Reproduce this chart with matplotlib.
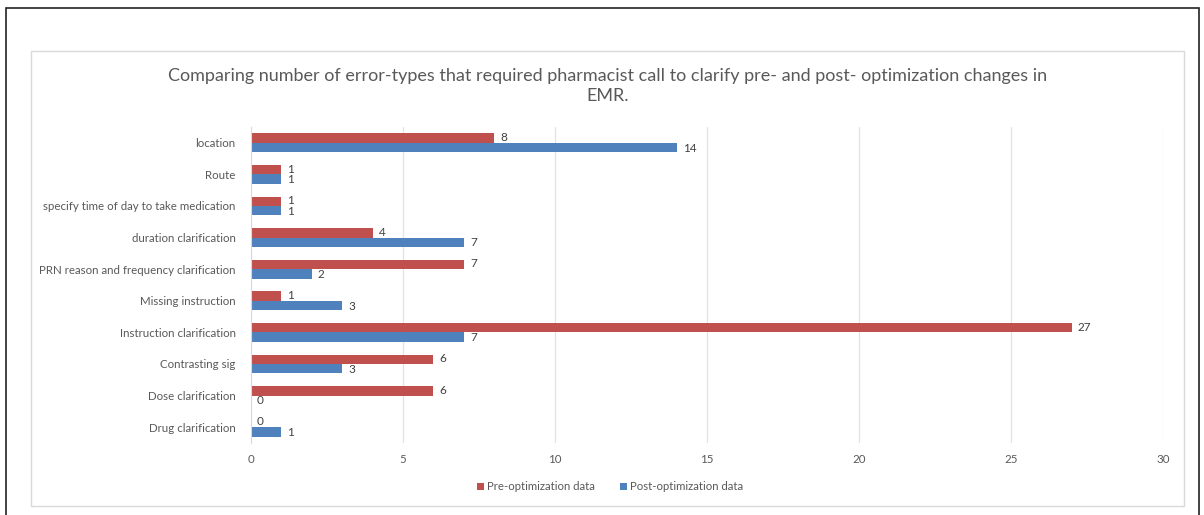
import matplotlib
matplotlib.use("Agg")
import matplotlib.pyplot as plt
from matplotlib.patches import Rectangle
import numpy as np

categories = ["Drug clarification", "Dose clarification", "Contrasting sig",
              "Instruction clarification", "Missing instruction",
              "PRN reason and frequency clarification", "duration clarification",
              "specify time of day to take medication", "Route", "location"]
pre_values = [0, 6, 6, 27, 1, 7, 4, 1, 1, 8]
post_values = [1, 0, 3, 7, 3, 2, 7, 1, 1, 14]
series_names = ["Pre-optimization data", "Post-optimization data"]
title = ("Comparing number of error-types that required pharmacist call to clarify pre- and post- optimization changes in\nEMR.")

RED = "#C0504D"
BLUE = "#4F81BD"
GRAY = "#595959"
FONT = "Lato"

W, H = 1204, 515
fig = plt.figure(figsize=(W / 100, H / 100), dpi=100)

# outer black frame
fig.add_artist(Rectangle((6 / W, -0.02), (1199 - 6) / W, 1 - 8 / H + 0.02,
                         transform=fig.transFigure, fill=False,
                         edgecolor="#222222", linewidth=1.2))
# chart area light box
fig.add_artist(Rectangle((31 / W, 1 - 506 / H), (1184 - 31) / W, (506 - 51) / H,
                         transform=fig.transFigure, fill=False,
                         edgecolor="#D9D9D9", linewidth=1.0))

left, right, top, bottom = 251, 1163, 127, 443
ax = fig.add_axes([left / W, 1 - bottom / H, (right - left) / W, (bottom - top) / H])

y = np.arange(len(categories))
h = 0.3
b1 = ax.barh(y + h / 2, pre_values, height=h, color=RED, label=series_names[0], zorder=3)
b2 = ax.barh(y - h / 2, post_values, height=h, color=BLUE, label=series_names[1], zorder=3)

for yi, v in zip(y, pre_values):
    ax.text(v + 0.2, yi + h / 2 + 0.02, str(v), va="center", ha="left",
            fontsize=8.5, color="#404040", family=FONT)
for yi, v in zip(y, post_values):
    ax.text(v + 0.2, yi - h / 2 - 0.02, str(v), va="center", ha="left",
            fontsize=8.5, color="#404040", family=FONT)

ax.set_xlim(0, 30)
ax.set_ylim(-0.5, len(categories) - 0.5)
ax.set_xticks(np.arange(0, 31, 5))
ax.set_yticks(y)
ax.set_yticklabels(categories)
for lab in ax.get_yticklabels() + ax.get_xticklabels():
    lab.set_family(FONT)
    lab.set_fontsize(8.3)
    lab.set_color(GRAY)
ax.tick_params(axis="both", length=0)
ax.tick_params(axis="y", pad=11)
ax.tick_params(axis="x", pad=8)
ax.grid(axis="x", color="#E3E3E3", linewidth=0.9, zorder=0)
for s in ["top", "right", "bottom"]:
    ax.spines[s].set_visible(False)
ax.spines["left"].set_color("#D9D9D9")
ax.spines["left"].set_zorder(4)

fig.text(608 / W, 1 - 86 / H, title, ha="center", va="center", fontsize=13,
         color=GRAY, family=FONT, linespacing=1.35)

leg = fig.legend(handles=[b1, b2], loc="center", bbox_to_anchor=(610 / W, 1 - 487 / H),
                 ncol=2, frameon=False, handlelength=0.6, handleheight=0.6,
                 handletextpad=0.3, columnspacing=2.2,
                 prop={"family": FONT, "size": 8.2})
for t in leg.get_texts():
    t.set_color(GRAY)

fig.savefig("out.png", dpi=100)
